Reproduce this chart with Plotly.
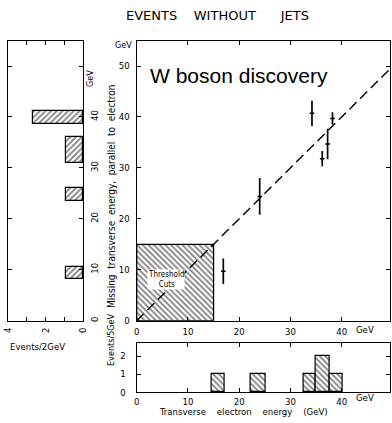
import plotly.graph_objects as go

W, H = 392, 423
def px(x): return x / W
def py(y): return 1 - y / H

FONT = "DejaVu Sans Condensed, DejaVu Sans, sans-serif"

# ---------------- data ----------------
# main scatter: transverse electron energy vs missing transverse energy (GeV)
pts_x = [16.9, 24.0, 34.2, 36.2, 37.25, 38.2]
pts_y = [9.7, 24.4, 40.7, 31.8, 34.7, 39.7]
err_y = [2.5, 3.6, 2.5, 1.5, 3.0, 1.2]
err_x = [0.45, 0.45, 0.45, 0.45, 0.45, 0.45]

# threshold cut box (GeV)
cut_x = 15
cut_y = 15

# diagonal reference line
diag = [0, 50]

# bottom histogram (events / 5 GeV) along transverse electron energy
ee_lo = [14.6, 22.3, 32.5, 34.9, 37.7]
ee_hi = [17.1, 25.2, 34.9, 37.7, 40.1]
ee_cnt = [1, 1, 1, 2, 1]

# left histogram (events / 2 GeV) along missing transverse energy
me_lo = [8.2, 23.5, 31.0, 38.6]
me_hi = [10.5, 26.0, 36.1, 41.2]
me_cnt = [0.9, 0.9, 0.9, 2.65]

main_xticks = [0, 10, 20, 30, 40]
main_yticks = [0, 10, 20, 30, 40, 50]
bot_yticks = [0, 1, 2]
left_xticks = [0, 1, 2, 3, 4]
left_xlabels = ["0", "", "2", "", "4"]
left_yticks = [0, 10, 20, 30, 40, 50]
left_ylabels = ["0", "10", "20", "30", "40", ""]

# ---------------- figure ----------------
fig = go.Figure()

hatch = dict(fgcolor="black", bgcolor="white", size=4, solidity=0.45)

# threshold cuts hatched box
fig.add_trace(go.Scatter(
    x=[0, cut_x, cut_x, 0, 0], y=[0, 0, cut_y, cut_y, 0],
    mode="lines", fill="toself", fillcolor="white",
    fillpattern=dict(hatch, shape="\\"),
    line=dict(color="black", width=1.3), xaxis="x", yaxis="y", hoverinfo="skip"))

# diagonal dashed line
fig.add_trace(go.Scatter(
    x=diag, y=diag, mode="lines",
    line=dict(color="black", width=1.4, dash="10px,5px"),
    xaxis="x", yaxis="y", hoverinfo="skip"))

# data points with errors
fig.add_trace(go.Scatter(
    x=pts_x, y=pts_y, mode="markers",
    marker=dict(size=1, color="black"),
    error_y=dict(type="data", array=err_y, color="black", thickness=1.7, width=0),
    error_x=dict(type="data", array=err_x, color="black", thickness=1.5, width=0),
    xaxis="x", yaxis="y"))

# bottom histogram
fig.add_trace(go.Bar(
    x=[(a + b) / 2 for a, b in zip(ee_lo, ee_hi)],
    y=ee_cnt, width=[b - a for a, b in zip(ee_lo, ee_hi)],
    marker=dict(color="white", line=dict(color="black", width=1.2),
                pattern=dict(hatch, shape="\\")),
    xaxis="x2", yaxis="y2"))

# left histogram (horizontal)
fig.add_trace(go.Bar(
    y=[(a + b) / 2 for a, b in zip(me_lo, me_hi)],
    x=me_cnt, width=[b - a for a, b in zip(me_lo, me_hi)],
    orientation="h",
    marker=dict(color="white", line=dict(color="black", width=1.2),
                pattern=dict(hatch, shape="/")),
    xaxis="x3", yaxis="y3"))

axis_common = dict(showline=True, linecolor="black", linewidth=1.2, mirror="ticks",
                   ticks="inside", ticklen=4, tickwidth=1, tickcolor="black",
                   showgrid=False, zeroline=False, automargin=False,
                   tickfont=dict(family=FONT, size=9.5, color="black"))

main_xr = [0, (390 - 136.7) / 5.125]
main_yr = [0, (320.7 - 41) / 5.094]

fig.update_layout(
    width=W, height=H, margin=dict(l=0, r=0, t=0, b=0, autoexpand=False),
    paper_bgcolor="white", plot_bgcolor="white", showlegend=False, bargap=0,
    xaxis=dict(axis_common, domain=[px(136.7), px(390)], range=main_xr,
               tickvals=main_xticks, anchor="y", ticklabelstandoff=2),
    yaxis=dict(axis_common, domain=[py(320.7), py(41)], range=main_yr,
               tickvals=main_yticks, anchor="x", ticklabelstandoff=4),
    xaxis2=dict(axis_common, domain=[px(136.7), px(390)], range=main_xr,
                tickvals=main_xticks, anchor="y2", ticklabelstandoff=0),
    yaxis2=dict(axis_common, domain=[py(392.3), py(343)], range=[0, (392.3 - 343) / 18.15],
                tickvals=bot_yticks, anchor="x2", ticklabelstandoff=8),
    xaxis3=dict(axis_common, domain=[px(8), px(83)], range=[4, 0],
                tickvals=left_xticks, ticktext=left_xlabels, tickangle=-90,
                anchor="y3", ticklabelstandoff=2),
    yaxis3=dict(axis_common, domain=[py(320.7), py(41)], range=main_yr,
                tickvals=left_yticks, ticktext=left_ylabels, side="right",
                tickangle=-90, anchor="x3", ticklabelstandoff=2),
)

def ann(x, y, text, size=9.5, angle=0, xanchor="center", **kw):
    fig.add_annotation(x=px(x), y=py(y), xref="paper", yref="paper", text=text,
                       showarrow=False, textangle=angle, xanchor=xanchor, yanchor="middle",
                       font=dict(family=kw.pop("family", FONT), size=size, color="black"), **kw)

nb = "\u00a0"
sp2 = nb * 2
ann(217, 15, "EVENTS" + nb * 4 + "WITHOUT" + nb * 6 + "JETS", size=13,
    family="DejaVu Sans, sans-serif")
ann(148, 75, "W boson discovery", size=21, family="Liberation Sans, Arial, sans-serif",
    xanchor="left")
ann(123.5, 45, "GeV", size=9)
ann(365, 329, "GeV")
ann(111, 197, "Missing" + sp2 + "transverse" + sp2 + "energy," + sp2 + "parallel" + sp2
    + "to" + sp2 + "electron", size=10, angle=-90)
ann(90, 79, "GeV", size=9, angle=-90)
ann(37.5, 346, "Events/2GeV")
ann(365, 397, "GeV")
ann(243, 411, "Transverse" + nb * 4 + "electron" + nb * 4 + "energy" + nb * 4 + "(GeV)", size=9.5)
ann(111, 340, "Events/5GeV", size=9, angle=-90)

fig.add_annotation(x=5.65, y=8.0, xref="x", yref="y", text="Threshold<br>Cuts",
                   showarrow=False, bgcolor="white", borderpad=0,
                   font=dict(family=FONT, size=8, color="black"))

fig.write_html("out.html")
